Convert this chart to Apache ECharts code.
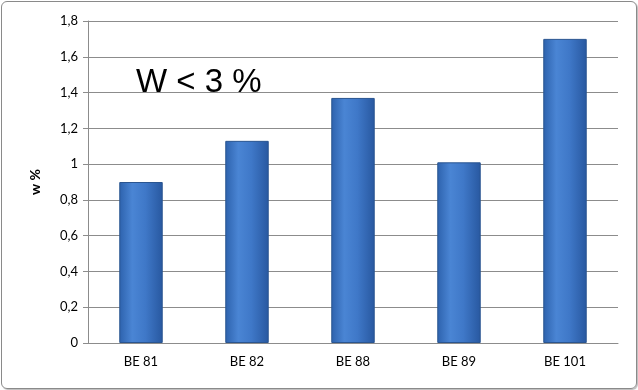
<!DOCTYPE html>
<html><head><meta charset="utf-8">
<script src="https://cdn.jsdelivr.net/npm/echarts@6/dist/echarts.min.js"></script>
<style>
html,body{margin:0;padding:0;background:#fff;}
#wrap{position:absolute;left:1px;top:1px;width:634px;height:386px;border:1px solid #8a8a8a;border-radius:6px;box-shadow:1px 1px 1px #bbb;}
#c{width:638px;height:390px;position:absolute;left:0;top:0;}
</style></head>
<body>
<div id="wrap"></div>
<div id="c"></div>
<script>
const categories = ['BE 81','BE 82','BE 88','BE 89','BE 101'];
const values = [0.9, 1.13, 1.37, 1.01, 1.7];
const yTicks = [0, 0.2, 0.4, 0.6, 0.8, 1, 1.2, 1.4, 1.6, 1.8];

const chart = echarts.init(document.getElementById('c'));
const font = 'Lato, "Open Sans", sans-serif';
chart.setOption({
  animation:false,
  grid:{left:88,right:20,top:21,bottom:47},
  title:{text:'W < 3 %',left:131,top:61,textStyle:{fontFamily:'"Liberation Sans", Arial, sans-serif',fontSize:33,fontWeight:'normal',color:'#000'}},
  xAxis:{type:'category',data:categories,
    axisLine:{lineStyle:{color:'#8c8c8c'}},
    axisTick:{show:false},
    axisLabel:{color:'#000',fontFamily:font,fontSize:13,margin:12}},
  yAxis:{type:'value',min:0,max:1.8,interval:0.2,
    name:'w %',nameLocation:'middle',nameGap:46,nameRotate:90,
    nameTextStyle:{fontFamily:font,fontSize:14,fontWeight:'bold',color:'#000'},
    axisLine:{show:true,lineStyle:{color:'#8c8c8c'}},
    axisTick:{show:true,length:5,lineStyle:{color:'#8c8c8c'}},
    splitLine:{lineStyle:{color:'#8c8c8c'}},
    axisLabel:{color:'#000',fontFamily:font,fontSize:13,margin:10,
      formatter:v=>{const s=yTicks.find(t=>Math.abs(t-v)<1e-9);return String(+(s===undefined?v:s).toFixed(1)).replace('.',',');}}},
  series:[{type:'bar',data:values,barWidth:'41%',
    itemStyle:{borderColor:'#2a5590',borderWidth:1,
      color:new echarts.graphic.LinearGradient(0,0,1,0,[
        {offset:0,color:'#2d62ad'},{offset:0.3,color:'#4a85d4'},{offset:0.6,color:'#3f78c8'},{offset:1,color:'#2858a0'}])}}]
});
</script>
</body></html>
